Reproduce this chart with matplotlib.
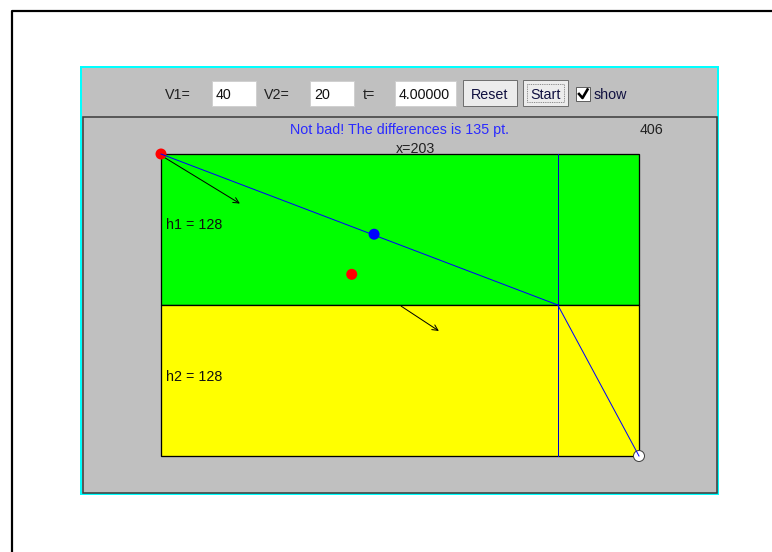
import matplotlib
matplotlib.use("Agg")
import matplotlib.pyplot as plt
from matplotlib.patches import Rectangle, Circle, FancyArrowPatch

plt.rcParams['font.family'] = ['Liberation Sans', 'DejaVu Sans']

# ---- data ----
control_labels = ["V1=", "V2=", "t="]
control_values = ["40", "20", "4.00000"]
button_labels = ["Reset", "Start"]
checkbox_label = "show"
message = "Not bad! The differences is 135 pt."
total_width = 406          # units
h1 = 128                   # units
h2 = 128                   # units
x_label = "x=203"
cross_x = 337              # units, where the path crosses the boundary
blue_dot = (181, 68)       # units
red_dot = (162, 102)       # units
arrow1 = ((3, 3), (67, 42))
arrow2 = ((204, 129), (236, 150))

# ---- layout ----
W, H = 772, 552
fig = plt.figure(figsize=(W / 100, H / 100), dpi=100)
ax = fig.add_axes([0, 0, 1, 1])
ax.set_xlim(0, W)
ax.set_ylim(H, 0)
ax.axis('off')
px = 0.72  # one pixel in points
FS = 10.3

FX0, FY0 = 161, 154
FX1 = 639
sx = (FX1 - FX0) / total_width
sy = (305 - FY0) / h1
def P(u, v):
    return FX0 + u * sx, FY0 + v * sy

# outer frame
ax.plot([12, 12, W + 5], [H + 5, 11, 11], color='black', lw=2.2 * px, solid_capstyle='butt')

# cyan panel
ax.add_patch(Rectangle((80, 66), 639, 429, facecolor='#00ffff', edgecolor='none'))
ax.add_patch(Rectangle((82, 68), 635, 425, facecolor='#c0c0c0', edgecolor='none'))
ax.add_patch(Rectangle((82.5, 116.5), 634, 376, facecolor='#c0c0c0', edgecolor='#404040', lw=1.6 * px))

# controls
lab_x = [178, 277, 369]
box_x = [(212, 256), (310, 354), (395, 456)]
ty = 95
for lab, val, lx, (b0, b1) in zip(control_labels, control_values, lab_x, box_x):
    ax.text(lx, ty, lab, ha='center', va='center', fontsize=FS, color='#202020')
    ax.add_patch(Rectangle((b0, 81), b1 - b0, 25, facecolor='white', edgecolor='#d0d0d0', lw=px))
    ax.text(b0 + 4, ty, val, ha='left', va='center', fontsize=FS, color='#101010')

btn_x = [(463, 517), (523, 568)]
for lab, (b0, b1) in zip(button_labels, btn_x):
    ax.add_patch(Rectangle((b0, 80), b1 - b0, 26, facecolor='#ececec', edgecolor='#707070', lw=px))
    ax.text((b0 + b1) / 2, ty, lab, ha='center', va='center', fontsize=FS, color='#101040')
ax.add_patch(Rectangle((527, 84), 37, 18, facecolor='none', edgecolor='#404040', lw=0.6 * px, ls=(0, (1.5, 1.5))))
ax.add_patch(Rectangle((576, 87), 14, 14, facecolor='white', edgecolor='#606060', lw=px))
ax.plot([579, 582.5, 587.5], [94, 98, 89.5], color='black', lw=2.6 * px)
ax.text(594, ty, checkbox_label, ha='left', va='center', fontsize=FS, color='#101040')

# field
ax.add_patch(Rectangle(P(0, 0), total_width * sx, h1 * sy, facecolor='#00ff00', edgecolor='black', lw=1.3 * px))
ax.add_patch(Rectangle(P(0, h1), total_width * sx, h2 * sy, facecolor='#ffff00', edgecolor='black', lw=1.3 * px))

# vertical line and path
xv, _ = P(cross_x, 0)
ax.plot([xv, xv], [P(0, 0)[1], P(0, h1 + h2)[1]], color='#0000d0', lw=px)
path_u = [0, cross_x, total_width]
path_v = [0, h1, h1 + h2]
pts = [P(u, v) for u, v in zip(path_u, path_v)]
ax.plot([p[0] for p in pts], [p[1] for p in pts], color='#0000ff', lw=px)

# arrows
for (a, b) in (arrow1, arrow2):
    ax.add_patch(FancyArrowPatch(P(*a), P(*b), arrowstyle='->,head_length=4,head_width=2',
                                 color='black', lw=px, shrinkA=0, shrinkB=0))

# dots
ax.add_patch(Circle(P(0, 0), 5.5, facecolor='#ff0000', edgecolor='none'))
ax.add_patch(Circle(P(*blue_dot), 5.5, facecolor='#0000ff', edgecolor='none'))
ax.add_patch(Circle(P(*red_dot), 5.5, facecolor='#ff0000', edgecolor='none'))
ax.add_patch(Circle(P(total_width, h1 + h2), 5.5, facecolor='white', edgecolor='#404040', lw=px))

# texts
ax.text(399, 130, message, ha='center', va='center', fontsize=FS, color='#2a2aff')
ax.text(652, 130, str(total_width), ha='center', va='center', fontsize=FS, color='#202020')
ax.text(416, 149, x_label, ha='center', va='center', fontsize=FS, color='#202020')
ax.text(166, 225, f"h1 = {h1}", ha='left', va='center', fontsize=FS, color='#101010')
ax.text(166, 377, f"h2 = {h2}", ha='left', va='center', fontsize=FS, color='#101010')

fig.savefig('out.png', dpi=100, facecolor='white')
